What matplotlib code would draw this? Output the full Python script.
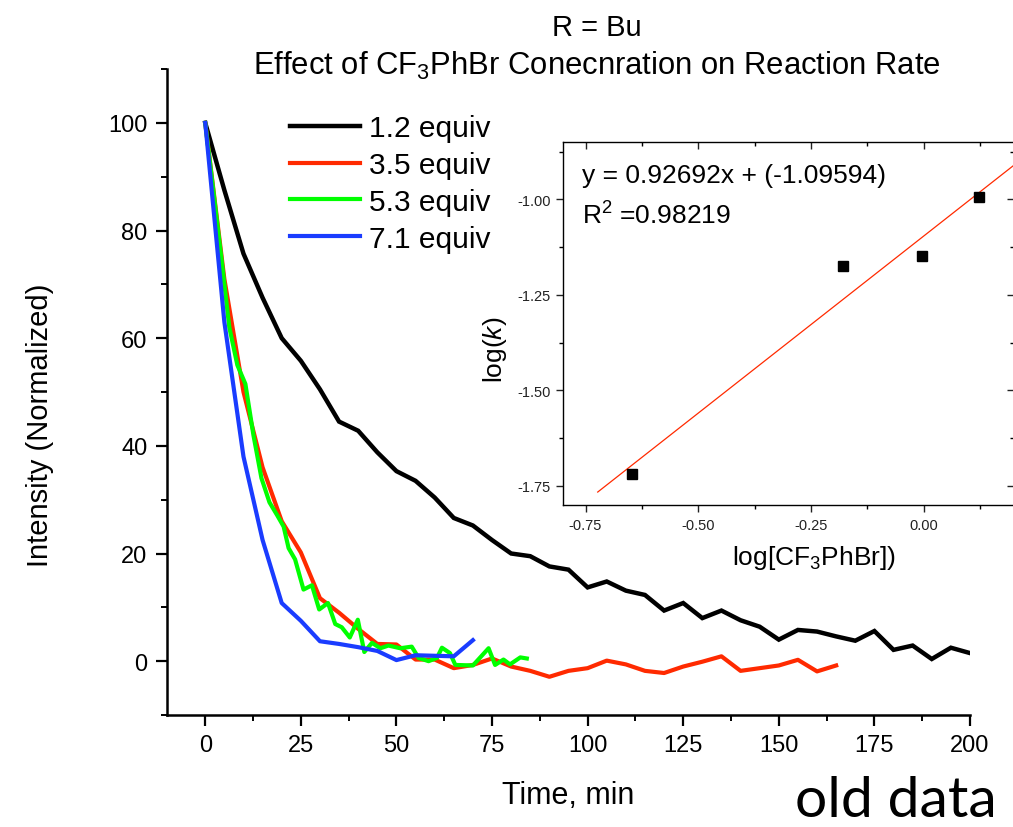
import numpy as np
import matplotlib
matplotlib.use("Agg")
from matplotlib import pyplot as plt
from matplotlib.ticker import MultipleLocator

plt.rcParams['font.family'] = ['Liberation Sans', 'DejaVu Sans']
plt.rcParams['mathtext.fontset'] = 'custom'
plt.rcParams['mathtext.rm'] = 'Liberation Sans'
plt.rcParams['mathtext.it'] = 'Liberation Sans:italic'
plt.rcParams['mathtext.default'] = 'regular'

# main plot data (time in min, normalized intensity)
t_12 = [0, 5, 10, 15, 20, 25, 30, 35, 40, 45, 50, 55, 60, 65, 70, 75, 80, 85, 90, 95, 100,
        105, 110, 115, 120, 125, 130, 135, 140, 145, 150, 155, 160, 165, 170, 175, 180,
        185, 190, 195, 200]
i_12 = [100, 87.5, 75.7, 67.5, 60, 55.8, 50.5, 44.5, 42.8, 38.8, 35.3, 33.5, 30.4, 26.6,
        25.2, 22.5, 20, 19.5, 17.6, 17.0, 13.7, 14.8, 13.1, 12.3, 9.4, 10.8, 8.0, 9.4, 7.6,
        6.4, 4.0, 5.8, 5.5, 4.6, 3.8, 5.6, 2.1, 2.9, 0.4, 2.5, 1.5]

t_35 = [0, 5, 10, 15, 20, 25, 30, 35, 40, 45, 50, 55, 60, 65, 70, 75, 80, 85, 90, 95, 100,
        105, 110, 115, 120, 125, 130, 135, 140, 145, 150, 155, 160, 165]
i_35 = [100, 71, 50, 36, 26, 20.2, 11.7, 9.0, 6.0, 3.2, 3.1, 0.3, 0.3, -1.3, -0.7, 0.5,
        -1.0, -1.8, -2.9, -1.8, -1.3, 0.1, -0.6, -1.8, -2.2, -1.0, -0.1, 0.9, -1.8, -1.3,
        -0.8, 0.25, -1.9, -0.8]

t_53 = [0, 4.2, 6.3, 8.4, 10.5, 12.6, 14.7, 16.8, 18.9, 20.5, 21.8, 23.5, 25.7, 27.9, 29.8,
        32.1, 34.0, 35.7, 37.8, 39.9, 41.6, 43.6, 45.8, 47.9, 51.0, 54.0, 55.8, 58.4, 60.6,
        61.9, 64.0, 65.4, 70.0, 74.1, 75.8, 78.0, 79.7, 82.4, 84.1]
i_53 = [100, 75, 62, 55, 51.5, 42, 34, 29.5, 27, 25, 21, 18.9, 13.3, 14.1, 9.6, 10.8, 6.9,
        6.3, 4.4, 7.7, 1.7, 3.4, 2.4, 2.9, 2.4, 2.7, 0.6, 0.0, 0.6, 2.5, 1.5, -0.7, -0.8,
        2.4, -0.7, 0.3, -0.6, 0.7, 0.5]

t_71 = [0, 5, 10, 15, 20, 25, 30, 35, 40, 45, 50, 55, 60, 65, 70]
i_71 = [100, 63, 38, 22.5, 10.8, 7.5, 3.7, 3.2, 2.6, 1.9, 0.2, 1.1, 1.0, 0.9, 3.9]

# inset data
log_conc = [-0.647, -0.179, -0.003, 0.122]
log_k = [-1.72, -1.175, -1.149, -0.995]
slope = 0.92692
intercept = -1.09594
fit_x = np.array([-0.723, 0.25])

fig = plt.figure(figsize=(10.13, 8.28), dpi=100)
ax = fig.add_axes([167 / 1013, 112 / 828, 803 / 1013, 646 / 828])

ax.plot(t_12, i_12, color='black', lw=3.2, label='1.2 equiv', solid_joinstyle='miter')
ax.plot(t_35, i_35, color='#ff2a00', lw=3, label='3.5 equiv')
ax.plot(t_53, i_53, color='#00ff00', lw=3, label='5.3 equiv')
ax.plot(t_71, i_71, color='#1a3cff', lw=3, label='7.1 equiv')

ax.set_xlim(-10, 200)
ax.set_ylim(-10, 110)
ax.xaxis.set_major_locator(MultipleLocator(25))
ax.xaxis.set_minor_locator(MultipleLocator(12.5))
ax.yaxis.set_major_locator(MultipleLocator(20))
ax.yaxis.set_minor_locator(MultipleLocator(10))
ax.set_yticks([0, 20, 40, 60, 80, 100])
for s in ['top', 'right']:
    ax.spines[s].set_visible(False)
for s in ['left', 'bottom']:
    ax.spines[s].set_linewidth(1.8)
ax.tick_params(which='major', direction='out', length=8, width=1.6, labelsize=17, pad=6)
ax.tick_params(which='minor', direction='out', length=4, width=1.4)
ax.set_xlabel('Time, min', fontsize=22)
ax.set_ylabel('Intensity (Normalized)', fontsize=21)
ax.xaxis.set_label_coords(0.5, -0.1)
ax.yaxis.set_label_coords(-0.141, 0.45)

ax.legend(loc='upper left', bbox_to_anchor=(290 / 1013, 1 - 115 / 828),
          bbox_transform=fig.transFigure, frameon=False, fontsize=21.5,
          handlelength=2.35, handletextpad=0.3, labelspacing=0.3,
          borderpad=0, borderaxespad=0)

fig.text(597 / 1013, 1 - 36 / 828, 'R = Bu', ha='center', va='baseline', fontsize=21)
fig.text(597 / 1013, 1 - 75 / 828, 'Effect of CF$_3$PhBr Conecnration on Reaction Rate',
         ha='center', va='baseline', fontsize=22.3)
fig.text(795 / 1013, 1 - 817 / 828, 'old data', ha='left', va='baseline',
         fontsize=41, family=['Lato', 'DejaVu Sans'])

# inset
ax_in = fig.add_axes([563 / 1013, 322 / 828, 451 / 1013, 363 / 828])
ax_in.plot(fit_x, slope * fit_x + intercept, color='#ff2a00', lw=0.9)
ax_in.plot(log_conc, log_k, 's', color='black', ms=6.5)
ax_in.set_xlim(-0.8, 0.2)
ax_in.set_ylim(-1.8, -0.85)
ax_in.xaxis.set_major_locator(MultipleLocator(0.25))
ax_in.xaxis.set_minor_locator(MultipleLocator(0.125))
ax_in.set_yticks([-1.75, -1.5, -1.25, -1.0])
ax_in.yaxis.set_minor_locator(MultipleLocator(0.125))
ax_in.xaxis.set_major_formatter(lambda v, p: f'{v:.2f}')
ax_in.yaxis.set_major_formatter(lambda v, p: f'{v:.2f}')
for s in ax_in.spines.values():
    s.set_linewidth(1.0)
ax_in.tick_params(which='major', length=5, width=1, labelsize=10.5, pad=4, colors='#222222')
ax_in.tick_params(which='minor', length=3, width=1)
ax_in.tick_params(which='both', direction='out')
ax_in.xaxis.set_ticks_position('both')
ax_in.yaxis.set_ticks_position('both')
ax_in.tick_params(axis='x', which='both', labeltop=False)
ax_in.tick_params(axis='y', which='both', labelright=False)
# top and right ticks point inward
for tick in ax_in.xaxis.get_major_ticks() + ax_in.xaxis.get_minor_ticks():
    tick.tick2line.set_marker(3)
for tick in ax_in.yaxis.get_major_ticks() + ax_in.yaxis.get_minor_ticks():
    tick.tick2line.set_marker(0)
ax_in.set_xlabel('log[CF$_3$PhBr])', fontsize=19)
ax_in.set_ylabel('log($\\mathit{k}$)', fontsize=19)
ax_in.xaxis.set_label_coords(0.556, -0.105)
ax_in.yaxis.set_label_coords(-0.12, 0.43)
ax_in.text(0.042, 0.89, 'y = 0.92692x + (-1.09594)', transform=ax_in.transAxes,
           fontsize=19, va='baseline')
ax_in.text(0.042, 0.774, 'R$^2$ =0.98219', transform=ax_in.transAxes,
           fontsize=19, va='baseline')

fig.savefig('out.png', dpi=100)
